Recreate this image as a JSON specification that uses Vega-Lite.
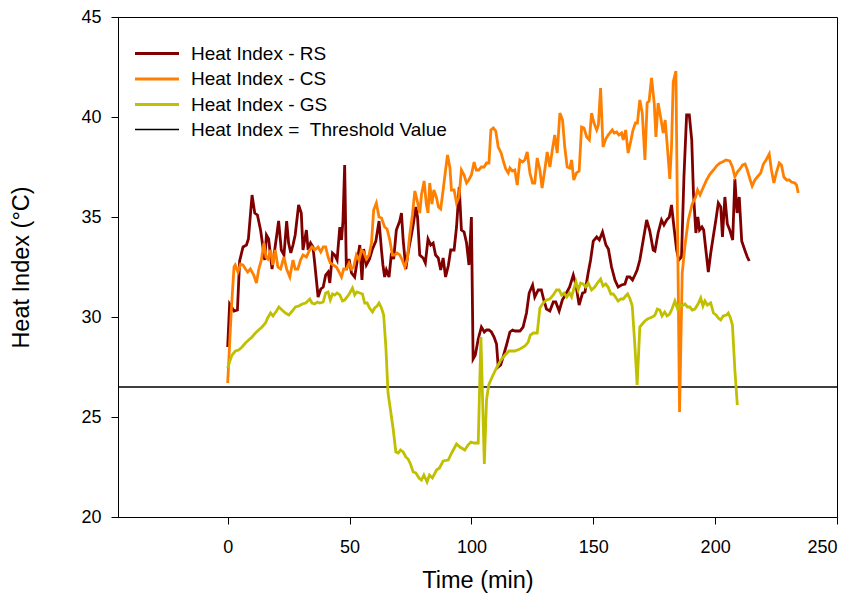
{
  "$schema": "https://vega.github.io/schema/vega-lite/v6.json",
  "width": 719,
  "height": 500,
  "autosize": "none",
  "padding": {"left": 118, "top": 17, "right": 19, "bottom": 81},
  "config": {
    "font": "Liberation Sans",
    "view": {"stroke": "#000000", "strokeWidth": 1},
    "axis": {"grid": false, "domainColor": "#000000", "tickColor": "#000000", "labelColor": "#000000", "titleColor": "#000000", "labelFontSize": 18, "titleFontSize": 23.5, "titleFontWeight": "normal", "tickSize": 7, "domainWidth": 1, "tickWidth": 1}
  },
  "datasets": {
    "rs": [
      {"t":0,"v":28.5},{"t":0.8,"v":30.65},{"t":2.6,"v":30.3},{"t":4,"v":30.35},{"t":4.9,"v":32.8},{"t":6.3,"v":33.5},{"t":7.7,"v":33.6},{"t":8.5,"v":33.9},{"t":10,"v":36.1},{"t":11.1,"v":35.2},{"t":12.2,"v":35.1},{"t":13.5,"v":34.35},{"t":15.2,"v":32.85},{"t":15.9,"v":34.1},{"t":16.8,"v":33.9},{"t":18.2,"v":32.4},{"t":19.3,"v":33.35},{"t":20.9,"v":34.8},{"t":22,"v":33.35},{"t":23.1,"v":33.1},{"t":24.2,"v":34.8},{"t":25,"v":33.7},{"t":25.9,"v":33.2},{"t":26.8,"v":33.6},{"t":27.7,"v":34.1},{"t":29.1,"v":35.6},{"t":30.2,"v":35.2},{"t":30.9,"v":33.35},{"t":32.3,"v":34.35},{"t":33,"v":33.35},{"t":34,"v":33.7},{"t":35,"v":33.5},{"t":35.7,"v":32.7},{"t":37.1,"v":31.0},{"t":38.2,"v":31.4},{"t":39.2,"v":31.5},{"t":40.2,"v":32.1},{"t":41.2,"v":32.25},{"t":41.9,"v":31.7},{"t":43,"v":33.2},{"t":43.9,"v":33.1},{"t":44.9,"v":32.85},{"t":46,"v":34.5},{"t":46.7,"v":33.85},{"t":47.3,"v":34.8},{"t":48,"v":37.6},{"t":48.7,"v":32.35},{"t":49.8,"v":32.9},{"t":50.8,"v":32.2},{"t":52.1,"v":32.0},{"t":53,"v":32.7},{"t":54.2,"v":33.6},{"t":55.1,"v":31.85},{"t":55.8,"v":33.4},{"t":56.9,"v":32.6},{"t":58.2,"v":32.9},{"t":59.4,"v":33.4},{"t":60.8,"v":33.8},{"t":62.1,"v":34.8},{"t":63.1,"v":33.35},{"t":63.7,"v":32.6},{"t":64.4,"v":32.0},{"t":65.1,"v":32.35},{"t":66.2,"v":32.0},{"t":67.2,"v":33.2},{"t":68.1,"v":32.9},{"t":69.2,"v":34.35},{"t":70.6,"v":34.8},{"t":71.3,"v":35.2},{"t":72,"v":33.85},{"t":73.1,"v":32.4},{"t":74,"v":33.2},{"t":75,"v":33.85},{"t":76.1,"v":34.6},{"t":77.2,"v":35.5},{"t":77.9,"v":35.0},{"t":78.8,"v":33.1},{"t":80.2,"v":32.95},{"t":81.1,"v":32.7},{"t":82.2,"v":33.9},{"t":83.3,"v":33.6},{"t":84.3,"v":33.7},{"t":85.3,"v":33.1},{"t":86.4,"v":32.95},{"t":87.4,"v":32.35},{"t":88.4,"v":32.95},{"t":89.4,"v":32.0},{"t":90.5,"v":32.55},{"t":91.5,"v":33.35},{"t":92.9,"v":33.35},{"t":93.9,"v":34.5},{"t":95,"v":36.5},{"t":95.9,"v":34.35},{"t":97,"v":34.25},{"t":98,"v":33.7},{"t":99,"v":32.6},{"t":100,"v":35.0},{"t":100.7,"v":27.9},{"t":101.6,"v":28.1},{"t":102.8,"v":28.9},{"t":104.1,"v":29.5},{"t":105.3,"v":29.25},{"t":106.2,"v":29.35},{"t":107.2,"v":29.35},{"t":108.2,"v":29.25},{"t":109.3,"v":29.0},{"t":110.3,"v":28.65},{"t":111,"v":27.5},{"t":112,"v":27.6},{"t":113,"v":28.0},{"t":114.4,"v":28.6},{"t":115.8,"v":29.25},{"t":116.9,"v":29.35},{"t":117.9,"v":29.3},{"t":119.9,"v":29.3},{"t":121.2,"v":29.5},{"t":122.6,"v":30.2},{"t":123.7,"v":31.2},{"t":125.1,"v":31.6},{"t":126,"v":31.0},{"t":127.4,"v":31.35},{"t":128.7,"v":31.35},{"t":129.7,"v":30.85},{"t":130.8,"v":30.4},{"t":132.2,"v":30.3},{"t":133.6,"v":30.75},{"t":134.6,"v":30.75},{"t":136,"v":30.3},{"t":137.3,"v":30.85},{"t":139,"v":31.2},{"t":140.3,"v":31.5},{"t":141.8,"v":32.1},{"t":142.9,"v":31.6},{"t":144.2,"v":30.6},{"t":145.6,"v":31.2},{"t":146.6,"v":31.25},{"t":147.9,"v":32.2},{"t":148.9,"v":32.85},{"t":150,"v":33.8},{"t":151.4,"v":34.0},{"t":152.5,"v":33.85},{"t":153.8,"v":34.25},{"t":155.2,"v":33.6},{"t":156.2,"v":33.4},{"t":157.5,"v":32.5},{"t":158.9,"v":31.85},{"t":160.2,"v":31.5},{"t":161.6,"v":31.6},{"t":163,"v":31.65},{"t":163.9,"v":32.0},{"t":165,"v":32.0},{"t":166.1,"v":31.85},{"t":167.1,"v":32.1},{"t":168,"v":32.35},{"t":169.1,"v":32.85},{"t":170.5,"v":33.85},{"t":171.9,"v":34.85},{"t":173.2,"v":34.3},{"t":174.6,"v":33.35},{"t":175.3,"v":33.3},{"t":176.6,"v":34.2},{"t":178,"v":34.85},{"t":179,"v":34.6},{"t":180.1,"v":34.85},{"t":181.2,"v":35.0},{"t":182.1,"v":35.6},{"t":183.1,"v":34.5},{"t":184.2,"v":33.35},{"t":185.1,"v":32.85},{"t":186.2,"v":33.0},{"t":187.2,"v":37.0},{"t":188.3,"v":40.1},{"t":189.4,"v":40.1},{"t":190.4,"v":38.85},{"t":191.1,"v":36.2},{"t":192.1,"v":34.2},{"t":192.9,"v":35.0},{"t":193.6,"v":34.35},{"t":194.6,"v":34.5},{"t":195.3,"v":34.35},{"t":196.2,"v":33.35},{"t":197.2,"v":32.25},{"t":198.2,"v":33.2},{"t":199.2,"v":34.0},{"t":200.3,"v":34.85},{"t":201.3,"v":35.7},{"t":202.3,"v":35.5},{"t":203,"v":34.0},{"t":204,"v":36.0},{"t":205,"v":34.65},{"t":206,"v":34.35},{"t":207.2,"v":33.85},{"t":208.1,"v":36.9},{"t":209,"v":35.2},{"t":209.9,"v":36.0},{"t":210.9,"v":33.8},{"t":212.3,"v":33.3},{"t":213.2,"v":33.0},{"t":214,"v":32.8}
    ],
    "cs": [
      {"t":0,"v":26.7},{"t":1.5,"v":30.35},{"t":2.6,"v":32.5},{"t":3.1,"v":32.6},{"t":4.2,"v":32.25},{"t":5.3,"v":32.65},{"t":6.3,"v":32.6},{"t":7.3,"v":32.4},{"t":8.2,"v":32.25},{"t":9.3,"v":32.4},{"t":10.7,"v":32.1},{"t":11.8,"v":31.7},{"t":12.7,"v":32.35},{"t":13.8,"v":32.85},{"t":14.9,"v":33.7},{"t":15.7,"v":33.0},{"t":16.5,"v":32.9},{"t":17.6,"v":33.35},{"t":18.5,"v":32.6},{"t":19.5,"v":33.35},{"t":20.6,"v":32.5},{"t":21.7,"v":32.4},{"t":23.1,"v":33.0},{"t":24.2,"v":32.4},{"t":25.5,"v":32.0},{"t":26.8,"v":32.85},{"t":27.7,"v":32.4},{"t":28.8,"v":32.4},{"t":29.9,"v":32.85},{"t":30.9,"v":33.1},{"t":32.3,"v":33.0},{"t":33.6,"v":33.35},{"t":34.6,"v":33.5},{"t":35.7,"v":33.35},{"t":37.1,"v":33.5},{"t":38.2,"v":33.25},{"t":39.2,"v":33.5},{"t":40.2,"v":33.5},{"t":41.2,"v":33.0},{"t":42.1,"v":32.7},{"t":43.3,"v":32.6},{"t":44.6,"v":32.5},{"t":45.7,"v":32.25},{"t":46.7,"v":32.0},{"t":47.6,"v":32.4},{"t":48.7,"v":32.4},{"t":49.8,"v":32.7},{"t":50.8,"v":32.4},{"t":51.7,"v":32.5},{"t":52.8,"v":33.1},{"t":53.9,"v":32.85},{"t":54.9,"v":33.35},{"t":55.8,"v":33.25},{"t":56.9,"v":32.9},{"t":58,"v":33.1},{"t":59,"v":33.7},{"t":59.9,"v":35.35},{"t":61,"v":35.7},{"t":62.1,"v":35.0},{"t":63.1,"v":34.95},{"t":64.4,"v":34.5},{"t":65.4,"v":34.4},{"t":66.5,"v":33.85},{"t":67.6,"v":33.1},{"t":68.5,"v":33.1},{"t":69.5,"v":33.2},{"t":70.6,"v":33.1},{"t":71.6,"v":32.85},{"t":72.7,"v":32.5},{"t":73.7,"v":32.9},{"t":74.7,"v":34.1},{"t":75.8,"v":35.1},{"t":76.8,"v":36.3},{"t":77.7,"v":35.85},{"t":78.8,"v":35.2},{"t":79.5,"v":36.1},{"t":80.6,"v":36.8},{"t":81.5,"v":35.65},{"t":82.2,"v":35.2},{"t":82.9,"v":36.7},{"t":83.8,"v":35.65},{"t":84.6,"v":36.35},{"t":85.6,"v":36.0},{"t":86.5,"v":35.5},{"t":87.4,"v":35.4},{"t":88.4,"v":36.35},{"t":89.4,"v":37.35},{"t":90.2,"v":38.1},{"t":91.2,"v":37.45},{"t":91.8,"v":36.35},{"t":92.9,"v":36.35},{"t":93.9,"v":35.7},{"t":94.9,"v":36.0},{"t":95.9,"v":37.35},{"t":97,"v":37.1},{"t":98,"v":36.7},{"t":98.9,"v":36.85},{"t":100,"v":37.1},{"t":101.1,"v":37.75},{"t":102,"v":37.35},{"t":103,"v":37.35},{"t":104.1,"v":37.5},{"t":105.2,"v":37.5},{"t":106.2,"v":37.7},{"t":107.2,"v":37.7},{"t":108,"v":39.35},{"t":109,"v":39.45},{"t":110,"v":39.3},{"t":111,"v":38.5},{"t":112.2,"v":38.2},{"t":113.2,"v":37.75},{"t":114.1,"v":37.4},{"t":115.1,"v":37.2},{"t":115.8,"v":37.45},{"t":116.8,"v":37.3},{"t":117.8,"v":37.35},{"t":118.8,"v":36.6},{"t":119.9,"v":37.85},{"t":121,"v":37.75},{"t":121.9,"v":37.85},{"t":122.9,"v":38.25},{"t":124,"v":37.2},{"t":125.1,"v":36.7},{"t":126,"v":36.7},{"t":127,"v":37.95},{"t":128.1,"v":37.35},{"t":129,"v":36.45},{"t":130.1,"v":37.35},{"t":131.1,"v":38.25},{"t":132.2,"v":37.5},{"t":133.2,"v":38.35},{"t":134.2,"v":39.1},{"t":135.2,"v":38.2},{"t":136.3,"v":40.2},{"t":137.4,"v":39.85},{"t":138.3,"v":38.5},{"t":139.3,"v":37.5},{"t":140.4,"v":37.45},{"t":141.1,"v":37.85},{"t":142,"v":36.85},{"t":143.1,"v":37.2},{"t":144.2,"v":37.3},{"t":145.2,"v":39.5},{"t":146.2,"v":39.45},{"t":147.3,"v":39.0},{"t":148.4,"v":38.85},{"t":149.3,"v":40.2},{"t":150.3,"v":39.7},{"t":151.4,"v":39.35},{"t":152.1,"v":39.6},{"t":153,"v":41.45},{"t":154,"v":38.5},{"t":155.1,"v":38.9},{"t":156.1,"v":39.1},{"t":156.8,"v":39.2},{"t":157.8,"v":39.35},{"t":158.6,"v":39.2},{"t":159.6,"v":39.25},{"t":160.5,"v":39.1},{"t":161.6,"v":39.2},{"t":162.3,"v":38.85},{"t":163.3,"v":39.35},{"t":164.3,"v":38.2},{"t":165.4,"v":38.8},{"t":166.3,"v":39.35},{"t":167.3,"v":39.7},{"t":168.1,"v":39.7},{"t":169.1,"v":40.85},{"t":170.1,"v":40.2},{"t":171.2,"v":37.85},{"t":172.1,"v":40.7},{"t":172.9,"v":40.8},{"t":173.9,"v":41.95},{"t":175,"v":40.7},{"t":175.7,"v":39.0},{"t":176.6,"v":40.7},{"t":177.7,"v":39.95},{"t":178.7,"v":39.2},{"t":179.5,"v":39.85},{"t":180.4,"v":38.5},{"t":181.4,"v":36.9},{"t":182.1,"v":38.5},{"t":182.8,"v":41.75},{"t":183.9,"v":42.3},{"t":185.4,"v":25.25},{"t":186.5,"v":32.2},{"t":187.6,"v":33.55},{"t":189,"v":34.85},{"t":190.6,"v":35.65},{"t":192,"v":36.0},{"t":192.8,"v":36.35},{"t":193.8,"v":36.1},{"t":195.2,"v":36.5},{"t":196.5,"v":36.85},{"t":197.9,"v":37.15},{"t":199.3,"v":37.35},{"t":200.6,"v":37.55},{"t":202,"v":37.7},{"t":203,"v":37.75},{"t":204.4,"v":37.85},{"t":206,"v":37.8},{"t":207.1,"v":37.5},{"t":208.1,"v":37.0},{"t":209.1,"v":37.25},{"t":210.2,"v":37.4},{"t":211.3,"v":37.6},{"t":212.3,"v":37.65},{"t":213.2,"v":37.35},{"t":214.4,"v":36.85},{"t":215.2,"v":36.55},{"t":216.3,"v":36.85},{"t":217.3,"v":37.0},{"t":218.7,"v":37.2},{"t":219.8,"v":37.65},{"t":220.9,"v":37.85},{"t":222.2,"v":38.15},{"t":223.1,"v":37.35},{"t":224.1,"v":36.7},{"t":225.2,"v":37.25},{"t":226.3,"v":37.7},{"t":227.2,"v":37.6},{"t":228.2,"v":37.0},{"t":229.3,"v":36.85},{"t":230.4,"v":36.85},{"t":231.3,"v":36.75},{"t":232.7,"v":36.7},{"t":233.4,"v":36.6},{"t":234.1,"v":36.2}
    ],
    "gs": [
      {"t":0,"v":27.45},{"t":0.9,"v":27.8},{"t":1.8,"v":28.1},{"t":3.2,"v":28.3},{"t":4.5,"v":28.35},{"t":5.9,"v":28.5},{"t":7.3,"v":28.7},{"t":8.6,"v":28.85},{"t":10,"v":29.0},{"t":11.4,"v":29.2},{"t":12.7,"v":29.35},{"t":14.1,"v":29.5},{"t":15.5,"v":29.7},{"t":16.4,"v":29.95},{"t":17.6,"v":30.2},{"t":18.6,"v":30.05},{"t":20,"v":30.3},{"t":21,"v":30.5},{"t":22.3,"v":30.35},{"t":23.7,"v":30.2},{"t":25.1,"v":30.1},{"t":26.5,"v":30.3},{"t":27.8,"v":30.5},{"t":29.2,"v":30.55},{"t":30.6,"v":30.65},{"t":32,"v":30.7},{"t":33.7,"v":30.9},{"t":34.6,"v":30.7},{"t":35.7,"v":30.65},{"t":36.8,"v":30.75},{"t":37.8,"v":30.7},{"t":39.2,"v":30.75},{"t":40.2,"v":31.2},{"t":41.2,"v":31.25},{"t":42.1,"v":30.85},{"t":43,"v":31.15},{"t":43.9,"v":31.1},{"t":44.9,"v":31.2},{"t":46,"v":31.1},{"t":47.1,"v":30.8},{"t":48,"v":30.85},{"t":49,"v":31.0},{"t":50.1,"v":31.2},{"t":51.2,"v":31.45},{"t":52.1,"v":31.1},{"t":53,"v":31.25},{"t":54.2,"v":31.2},{"t":55.3,"v":31.15},{"t":56.2,"v":30.7},{"t":57.2,"v":30.7},{"t":58.2,"v":30.45},{"t":59.4,"v":30.25},{"t":60.3,"v":30.45},{"t":61.3,"v":30.55},{"t":62.1,"v":30.7},{"t":63.1,"v":30.45},{"t":64,"v":30.1},{"t":64.9,"v":28.5},{"t":65.8,"v":26.2},{"t":66.8,"v":25.35},{"t":67.9,"v":24.4},{"t":69,"v":23.25},{"t":70,"v":23.2},{"t":70.9,"v":23.35},{"t":72,"v":23.25},{"t":73.1,"v":23.0},{"t":74,"v":22.9},{"t":75,"v":22.65},{"t":76.1,"v":22.25},{"t":77.2,"v":22.2},{"t":78.5,"v":21.95},{"t":79.5,"v":21.85},{"t":80.5,"v":22.1},{"t":81.8,"v":21.75},{"t":82.8,"v":22.1},{"t":84,"v":21.95},{"t":85.7,"v":22.35},{"t":86.9,"v":22.45},{"t":88.4,"v":22.8},{"t":90.5,"v":22.85},{"t":91.9,"v":23.2},{"t":93.9,"v":23.65},{"t":95.3,"v":23.5},{"t":97.3,"v":23.35},{"t":98.6,"v":23.6},{"t":99.8,"v":23.75},{"t":101.1,"v":23.7},{"t":102.8,"v":23.7},{"t":103.9,"v":29.0},{"t":105.3,"v":22.65},{"t":106.2,"v":25.85},{"t":107.1,"v":26.6},{"t":108.5,"v":27.0},{"t":110.3,"v":27.45},{"t":112.1,"v":27.85},{"t":113.8,"v":28.1},{"t":115.4,"v":28.3},{"t":117.8,"v":28.3},{"t":119.9,"v":28.4},{"t":122,"v":28.55},{"t":123.3,"v":28.75},{"t":124.2,"v":29.1},{"t":125.4,"v":29.2},{"t":127,"v":29.2},{"t":128.1,"v":30.45},{"t":129.5,"v":30.7},{"t":130.8,"v":30.85},{"t":132.2,"v":30.9},{"t":133.6,"v":31.1},{"t":134.9,"v":31.35},{"t":136,"v":31.35},{"t":137,"v":31.1},{"t":138,"v":31.2},{"t":139.1,"v":31.0},{"t":140.2,"v":31.2},{"t":141.1,"v":31.0},{"t":142.1,"v":31.45},{"t":142.9,"v":31.75},{"t":143.8,"v":31.35},{"t":144.8,"v":31.7},{"t":145.8,"v":31.65},{"t":146.9,"v":31.5},{"t":147.9,"v":31.7},{"t":149.3,"v":31.35},{"t":150.6,"v":31.5},{"t":152,"v":31.75},{"t":153,"v":31.9},{"t":154,"v":31.55},{"t":155.1,"v":31.65},{"t":156.1,"v":31.5},{"t":157.2,"v":31.15},{"t":158.2,"v":31.15},{"t":159.1,"v":31.0},{"t":160.2,"v":30.8},{"t":161.3,"v":30.9},{"t":162.3,"v":30.9},{"t":163.3,"v":31.05},{"t":164.1,"v":31.15},{"t":165.1,"v":30.9},{"t":166,"v":30.55},{"t":167.1,"v":28.5},{"t":168,"v":26.6},{"t":169.1,"v":29.5},{"t":170.1,"v":29.65},{"t":171.2,"v":29.8},{"t":172.3,"v":29.9},{"t":173.2,"v":29.95},{"t":174.2,"v":30.0},{"t":175.3,"v":30.1},{"t":176.3,"v":30.4},{"t":177.3,"v":30.35},{"t":178.2,"v":30.05},{"t":179.3,"v":30.25},{"t":180.3,"v":30.05},{"t":181.3,"v":30.15},{"t":182.3,"v":30.4},{"t":183.5,"v":30.8},{"t":184.6,"v":30.4},{"t":185.5,"v":30.65},{"t":186.5,"v":30.55},{"t":187.6,"v":30.65},{"t":188.7,"v":30.5},{"t":189.6,"v":30.5},{"t":190.6,"v":30.35},{"t":191.7,"v":30.4},{"t":193,"v":30.65},{"t":194.1,"v":30.95},{"t":195,"v":30.55},{"t":195.8,"v":30.8},{"t":196.8,"v":30.6},{"t":198.2,"v":30.7},{"t":199.3,"v":30.2},{"t":200.4,"v":30.1},{"t":201.3,"v":29.95},{"t":202.3,"v":29.85},{"t":203.3,"v":30.05},{"t":204.7,"v":30.1},{"t":205.4,"v":30.2},{"t":206.3,"v":29.95},{"t":207.1,"v":29.6},{"t":208.1,"v":27.35},{"t":209.1,"v":25.6}
    ],
    "th": [{"s": "Heat Index = \u00a0Threshold Value", "v": 26.5}]
  },
  "encoding": {
    "x": {"field": "t", "type": "quantitative", "scale": {"domain": [-45, 250], "nice": false, "zero": false},
      "axis": {"title": "Time (min)", "values": [0, 50, 100, 150, 200, 250], "labelPadding": 14, "titlePadding": 12}},
    "y": {"field": "v", "type": "quantitative", "scale": {"domain": [20, 45], "nice": false, "zero": false},
      "axis": {"title": "Heat Index (°C)", "values": [20, 25, 30, 35, 40, 45], "labelPadding": 10, "titlePadding": 47}},
    "color": {"field": "s", "type": "nominal",
      "scale": {"domain": ["Heat Index - RS", "Heat Index - CS", "Heat Index - GS", "Heat Index = \u00a0Threshold Value"], "range": ["#800000", "#ff8000", "#c0c000", "#000000"]},
      "legend": {"title": null, "orient": "none", "legendX": 26.5, "legendY": 24, "symbolType": "M-2,0H2", "symbolSize": 484, "labelFontSize": 19, "labelColor": "#000000", "labelOffset": 21.5, "labelLimit": 500, "rowPadding": 2.5, "padding": 0}},
    "strokeWidth": {"field": "s", "type": "nominal",
      "scale": {"type": "ordinal", "domain": ["Heat Index - RS", "Heat Index - CS", "Heat Index - GS", "Heat Index = \u00a0Threshold Value"], "range": [2.8, 2.8, 2.8, 1.4]}}
  },
  "layer": [
    {"data": {"name": "th"}, "mark": {"type": "rule"}, "encoding": {"x": null}},
    {"data": {"name": "rs"}, "transform": [{"calculate": "'Heat Index - RS'", "as": "s"}], "mark": {"type": "line"}},
    {"data": {"name": "cs"}, "transform": [{"calculate": "'Heat Index - CS'", "as": "s"}], "mark": {"type": "line"}},
    {"data": {"name": "gs"}, "transform": [{"calculate": "'Heat Index - GS'", "as": "s"}], "mark": {"type": "line"}}
  ]
}
